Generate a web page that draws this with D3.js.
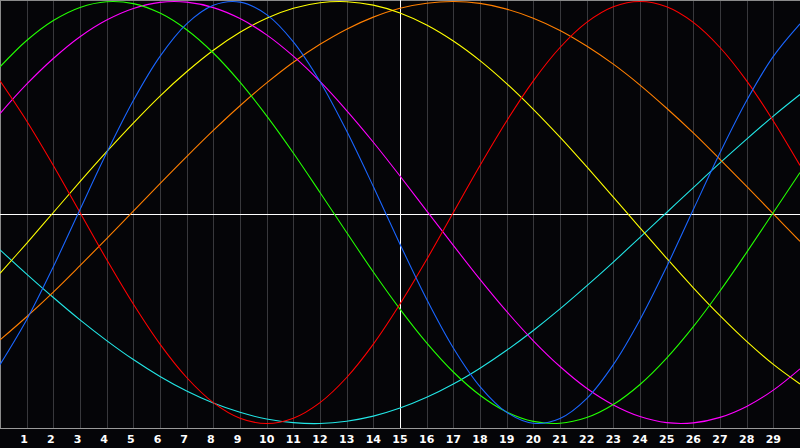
<!DOCTYPE html>
<html>
<head>
<meta charset="utf-8">
<script src="https://cdn.jsdelivr.net/npm/d3@7"></script>
<style>
  html, body { margin: 0; padding: 0; background: #050508; }
  svg { display: block; }
  .tick-label { font-family: "DejaVu Sans", sans-serif; font-weight: bold; font-size: 11px; fill: #ffffff; }
</style>
</head>
<body>
<div id="chart"></div>
<script>
var days = d3.range(0, 31);
var tickDays = d3.range(1, 30);

var blue    = [-0.721,-0.508,-0.257,0.014,0.283,0.531,0.740,0.894,0.982,0.997,0.938,0.809,0.621,0.386,0.123,-0.150,-0.411,-0.642,-0.825,-0.947,-0.999,-0.976,-0.882,-0.721,-0.508,-0.257,0.014,0.283,0.531,0.740,0.894];
var red     = [0.624,0.434,0.223,0.000,-0.223,-0.434,-0.624,-0.782,-0.901,-0.975,-1.000,-0.975,-0.901,-0.782,-0.624,-0.434,-0.223,0.000,0.223,0.434,0.624,0.782,0.901,0.975,1.000,0.975,0.901,0.782,0.624,0.434,0.223];
var green   = [0.690,0.815,0.910,0.972,0.999,0.990,0.945,0.866,0.756,0.618,0.458,0.282,0.095,-0.095,-0.282,-0.458,-0.618,-0.756,-0.866,-0.945,-0.990,-0.999,-0.972,-0.910,-0.815,-0.690,-0.541,-0.372,-0.189,0.000,0.189];
var magenta = [0.469,0.608,0.730,0.833,0.912,0.967,0.996,0.997,0.971,0.919,0.842,0.741,0.621,0.483,0.333,0.173,0.008,-0.156,-0.317,-0.469,-0.608,-0.730,-0.833,-0.912,-0.967,-0.996,-0.997,-0.971,-0.919,-0.842,-0.741];
var yellow  = [-0.288,-0.146,0.000,0.146,0.288,0.424,0.552,0.667,0.769,0.854,0.921,0.968,0.994,0.999,0.983,0.946,0.889,0.813,0.720,0.611,0.489,0.357,0.217,0.073,-0.073,-0.217,-0.357,-0.489,-0.611,-0.720,-0.813];
var orange  = [-0.604,-0.494,-0.377,-0.252,-0.124,0.007,0.137,0.265,0.389,0.506,0.614,0.712,0.797,0.869,0.926,0.968,0.992,1.000,0.991,0.964,0.921,0.863,0.789,0.703,0.604,0.494,0.377,0.252,0.124,-0.007,-0.137];
var cyan    = [-0.177,-0.292,-0.403,-0.509,-0.607,-0.697,-0.777,-0.846,-0.903,-0.947,-0.979,-0.996,-1.000,-0.989,-0.965,-0.927,-0.876,-0.813,-0.738,-0.653,-0.559,-0.457,-0.348,-0.235,-0.118,0.000,0.118,0.235,0.348,0.457,0.559];

var seriesList = [
  { name: 'cyan', values: cyan, color: '#22e6e6' },
  { name: 'orange', values: orange, color: '#ff7f00' },
  { name: 'yellow', values: yellow, color: '#ffff00' },
  { name: 'magenta', values: magenta, color: '#ff00ff' },
  { name: 'green', values: green, color: '#22ff00' },
  { name: 'red', values: red, color: '#ff0000' },
  { name: 'blue', values: blue, color: '#1a66ff' }
];

var width = 800, height = 448;
var plotHeight = 428;

var svg = d3.select('#chart')
  .append('svg')
  .attr('width', width)
  .attr('height', height);

svg.append('rect')
  .attr('width', width)
  .attr('height', height)
  .attr('fill', '#050508');

var x = d3.scaleLinear().domain([0, 30]).range([0, width]);
var y = d3.scaleLinear().domain([-1, 1]).range([423.5, 1.5]);

// vertical day grid
svg.append('g')
  .selectAll('line')
  .data(tickDays)
  .enter()
  .append('line')
  .attr('x1', function (d) { return Math.round(x(d)) + 0.5; })
  .attr('x2', function (d) { return Math.round(x(d)) + 0.5; })
  .attr('y1', 0)
  .attr('y2', plotHeight)
  .attr('stroke', '#38383c')
  .attr('stroke-width', 1)
  .attr('shape-rendering', 'crispEdges');

// frame
svg.append('path')
  .attr('d', 'M0.5,' + plotHeight + 'V0.5H' + width)
  .attr('fill', 'none')
  .attr('stroke', '#8a8a8a')
  .attr('shape-rendering', 'crispEdges');
svg.append('line')
  .attr('x1', 0).attr('x2', width)
  .attr('y1', plotHeight + 0.5).attr('y2', plotHeight + 0.5)
  .attr('stroke', '#9a9a9a')
  .attr('stroke-width', 1)
  .attr('shape-rendering', 'crispEdges');

// center cross
svg.append('line')
  .attr('x1', 0).attr('x2', width)
  .attr('y1', plotHeight / 2 + 0.5).attr('y2', plotHeight / 2 + 0.5)
  .attr('stroke', '#ffffff')
  .attr('shape-rendering', 'crispEdges');
svg.append('line')
  .attr('x1', Math.round(x(15)) + 0.5).attr('x2', Math.round(x(15)) + 0.5)
  .attr('y1', 0).attr('y2', plotHeight)
  .attr('stroke', '#ffffff')
  .attr('shape-rendering', 'crispEdges');

var line = d3.line()
  .x(function (d, i) { return x(days[i]); })
  .y(function (d) { return y(d); })
  .curve(d3.curveCatmullRom.alpha(0.5));

svg.append('g')
  .selectAll('path')
  .data(seriesList)
  .enter()
  .append('path')
  .attr('d', function (s) { return line(s.values); })
  .attr('fill', 'none')
  .attr('stroke', function (s) { return s.color; })
  .attr('stroke-width', 1.1);

// day labels
svg.append('g')
  .selectAll('text')
  .data(tickDays)
  .enter()
  .append('text')
  .attr('class', 'tick-label')
  .attr('x', function (d) { return x(d) - (d < 10 ? 2.5 : 0); })
  .attr('y', 443)
  .attr('text-anchor', 'middle')
  .text(function (d) { return d; });
</script>
</body>
</html>
